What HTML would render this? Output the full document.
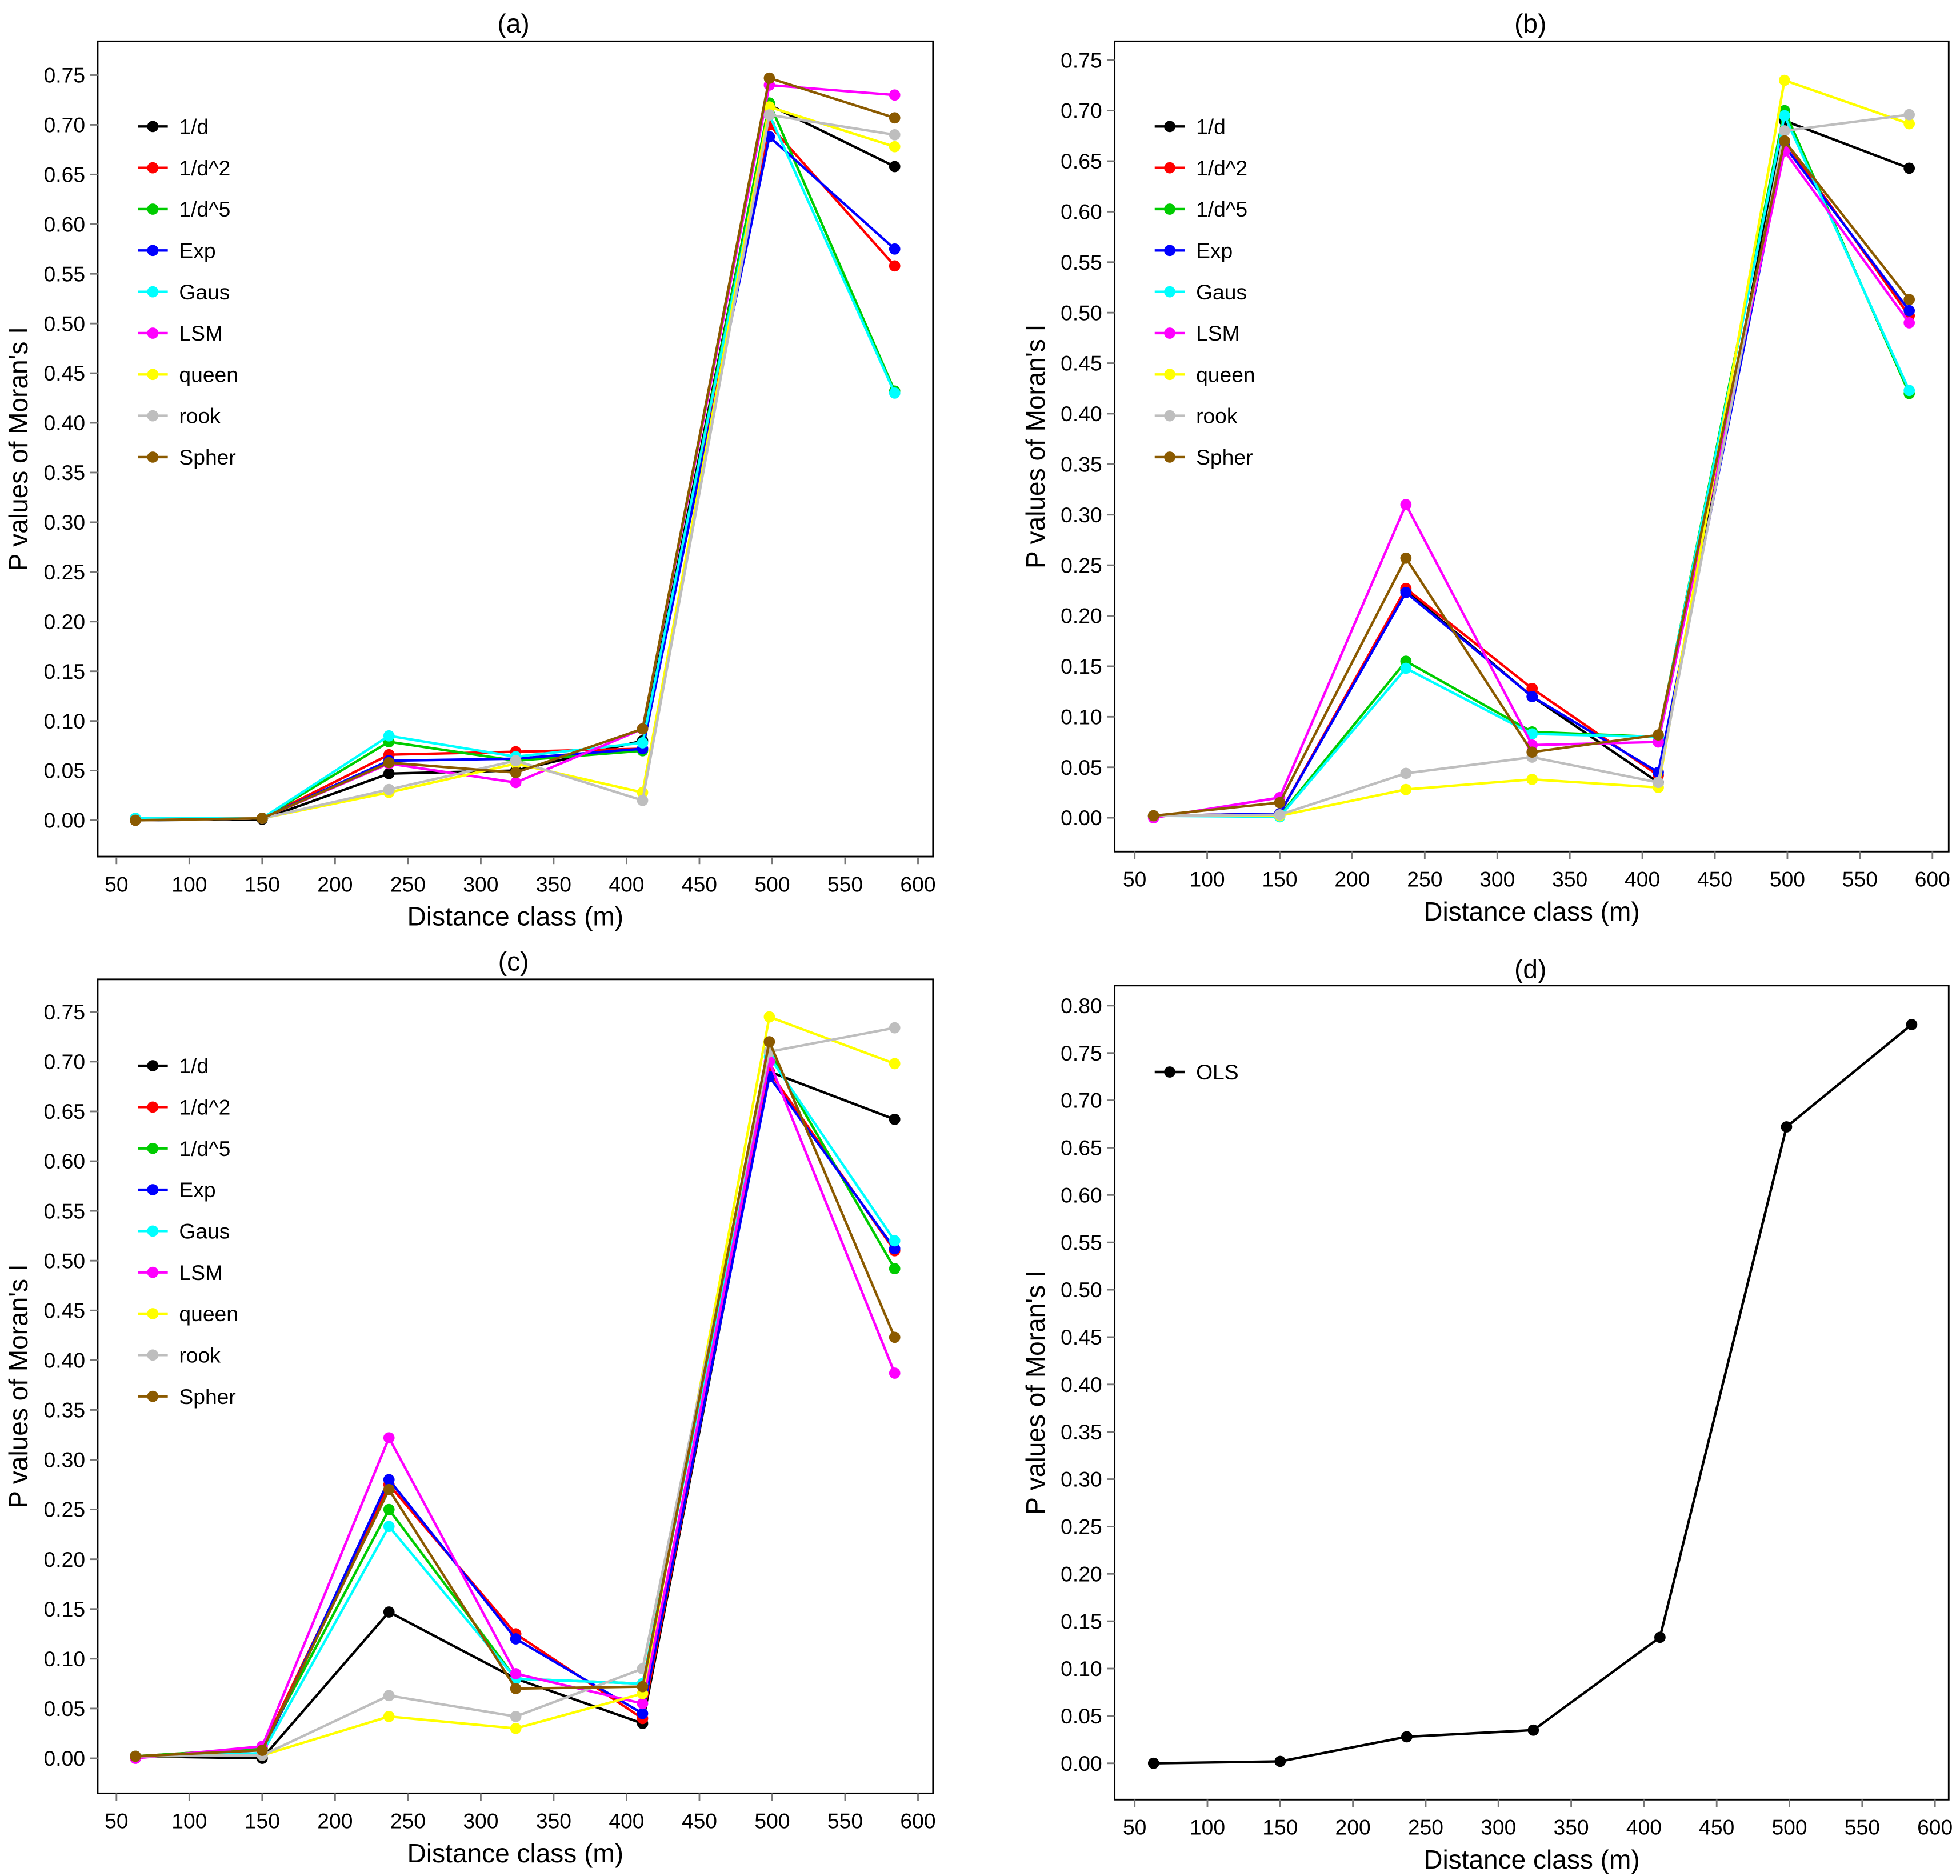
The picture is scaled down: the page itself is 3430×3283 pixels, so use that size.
<!DOCTYPE html>
<html><head><meta charset="utf-8">
<style>html,body{margin:0;padding:0;background:#fff}svg{display:block}text{font-family:"Liberation Sans",Arial,sans-serif;fill:#000}</style>
</head><body>
<svg id="fig" xmlns="http://www.w3.org/2000/svg" width="3430" height="3283" viewBox="0 0 1565 1498" preserveAspectRatio="none"></svg>
<script>
const xClasses=[63,150,237,324,411,498,584];
const xTicks=[50,100,150,200,250,300,350,400,450,500,550,600];
const seriesNames=['1/d','1/d^2','1/d^5','Exp','Gaus','LSM','queen','rook','Spher'];
const seriesColors=['#000000','#ff0000','#00cc00','#0000ff','#00ffff','#ff00ff','#ffff00','#bebebe','#8b5a00'];
const aVals=[[0,0.001,0.047,0.050,0.080,0.720,0.658],[0,0.002,0.066,0.069,0.072,0.700,0.558],[0,0.002,0.079,0.060,0.070,0.722,0.432],[0,0.002,0.060,0.062,0.072,0.688,0.575],[0.002,0.002,0.085,0.064,0.078,0.710,0.430],[0,0.002,0.057,0.038,0.092,0.740,0.730],[0,0.002,0.028,0.057,0.028,0.718,0.678],[0,0.002,0.031,0.060,0.020,0.710,0.690],[0,0.002,0.058,0.048,0.092,0.747,0.707]];
const bVals=[[0.002,0.004,0.225,0.120,0.035,0.690,0.643],[0.002,0.004,0.227,0.128,0.042,0.670,0.497],[0.002,0.002,0.155,0.085,0.080,0.700,0.420],[0.002,0.004,0.223,0.120,0.045,0.665,0.502],[0.002,0.001,0.148,0.083,0.080,0.695,0.423],[0,0.020,0.310,0.072,0.075,0.660,0.490],[0.002,0.002,0.028,0.038,0.030,0.730,0.687],[0.002,0.003,0.044,0.060,0.035,0.680,0.696],[0.002,0.015,0.257,0.065,0.082,0.670,0.513]];
const cVals=[[0.002,0,0.147,0.080,0.035,0.690,0.642],[0.002,0.010,0.275,0.125,0.040,0.690,0.510],[0.002,0.010,0.250,0.080,0.075,0.710,0.492],[0.002,0.005,0.280,0.120,0.045,0.685,0.512],[0.002,0.005,0.233,0.080,0.075,0.705,0.520],[0,0.012,0.322,0.085,0.055,0.700,0.387],[0.002,0.003,0.042,0.030,0.065,0.745,0.698],[0.002,0.003,0.063,0.042,0.090,0.710,0.734],[0.002,0.008,0.270,0.070,0.072,0.720,0.423]];
const dNames=['OLS'];
const dColors=['#000000'];
const dVals=[[0,0.002,0.028,0.035,0.133,0.672,0.780]];
const yTicksA=[0,0.05,0.1,0.15,0.2,0.25,0.3,0.35,0.4,0.45,0.5,0.55,0.6,0.65,0.7,0.75];
const yTicksD=[0,0.05,0.1,0.15,0.2,0.25,0.3,0.35,0.4,0.45,0.5,0.55,0.6,0.65,0.7,0.75,0.8];

const NS='http://www.w3.org/2000/svg';
const svg=document.getElementById('fig');
function mk(tag,attrs,parent,txt){const e=document.createElementNS(NS,tag);for(const k in attrs)e.setAttribute(k,attrs[k]);if(txt!==undefined)e.textContent=txt;(parent||svg).appendChild(e);return e;}

const panels=[
 {id:'a',title:'(a)',box:[78,33,745,684],x50:93,x600:733,y0:655,yTop:60,yTopVal:0.75,yt:yTicksA,names:seriesNames,colors:seriesColors,vals:aVals,leg:[110,101],titleY:26,tx:410},
 {id:'b',title:'(b)',box:[890,33,1556,680],x50:906,x600:1543,y0:653,yTop:48,yTopVal:0.75,yt:yTicksA,names:seriesNames,colors:seriesColors,vals:bVals,leg:[922,101],titleY:26,tx:1222},
 {id:'c',title:'(c)',box:[78,782,745,1432],x50:93,x600:733,y0:1404,yTop:808,yTopVal:0.75,yt:yTicksA,names:seriesNames,colors:seriesColors,vals:cVals,leg:[110,851],titleY:775,tx:410},
 {id:'d',title:'(d)',box:[890,787,1556,1437],x50:906,x600:1545,y0:1408,yTop:803,yTopVal:0.80,yt:yTicksD,names:dNames,colors:dColors,vals:dVals,leg:[922,856],titleY:781,tx:1222}
];
panels.forEach(p=>{
  const g=mk('g',{});
  
  
  const X=v=>p.x50+(v-50)/550*(p.x600-p.x50);
  const Y=v=>p.y0-v/p.yTopVal*(p.y0-p.yTop);
  const [l,t,r,b]=p.box;
  const ti=mk('text',{x:p.tx,y:p.titleY,'font-size':21,'text-anchor':'middle'},g,p.title);
  
  
  const fr=mk('rect',{x:l,y:t,width:r-l,height:b-t,fill:'none',stroke:'#000','stroke-width':1.3},g);
  
  
  p.yt.forEach(v=>{
    mk('line',{x1:l-6,x2:l,y1:Y(v),y2:Y(v),stroke:'#777','stroke-width':1.3},g);
    const tl=mk('text',{x:l-10,y:Y(v)+6,'font-size':17,'text-anchor':'end'},g,v.toFixed(2));
    
    
  });
  xTicks.forEach(v=>{
    mk('line',{x1:X(v),x2:X(v),y1:b,y2:b+6,stroke:'#777','stroke-width':1.3},g);
    const tl=mk('text',{x:X(v),y:b+28,'font-size':17,'text-anchor':'middle'},g,String(v));
    
    
  });
  const xt=mk('text',{x:(l+r)/2,y:b+55,'font-size':21,'text-anchor':'middle'},g,'Distance class (m)');
  
  
  const yx=l-56, yy=(t+b)/2;
  const yt=mk('text',{x:yx,y:yy,'font-size':21,'text-anchor':'middle',transform:`rotate(-90 ${yx} ${yy})`},g,"P values of Moran's I");
  
  
  p.vals.forEach((vals,i)=>{
    const sg=mk('g',{},g);
    
    
    const pts=vals.map((v,j)=>X(xClasses[j])+','+Y(v)).join(' ');
    mk('polyline',{points:pts,fill:'none',stroke:p.colors[i],'stroke-width':2},sg);
    vals.forEach((v,j)=>{
      const c=mk('circle',{cx:X(xClasses[j]),cy:Y(v),r:4.5,fill:p.colors[i]},sg);
      
      
    });
    const ly=p.leg[1]+i*33;
    const lg=mk('g',{},g);
    
    
    mk('line',{x1:p.leg[0],x2:p.leg[0]+24,y1:ly,y2:ly,stroke:p.colors[i],'stroke-width':2},lg);
    mk('circle',{cx:p.leg[0]+12,cy:ly,r:4.5,fill:p.colors[i]},lg);
    mk('text',{x:p.leg[0]+33,y:ly+6,'font-size':17},lg,p.names[i]);
  });
});
</script>
</body></html>
